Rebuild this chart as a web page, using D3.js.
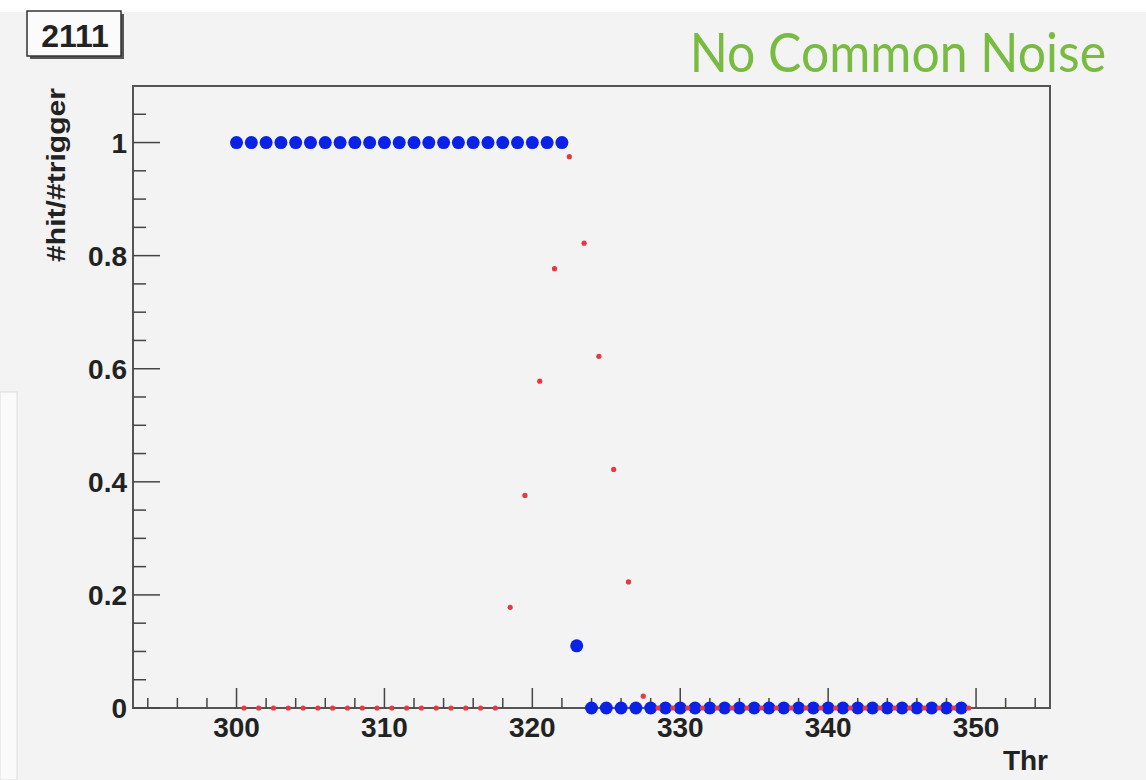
<!DOCTYPE html>
<html>
<head>
<meta charset="utf-8">
<script src="https://cdn.jsdelivr.net/npm/d3@7"></script>
<style>
  body { margin: 0; background: #fff; }
  svg { display: block; }
  text { font-family: "Liberation Sans", Arial, sans-serif; font-weight: bold; fill: #222; }
</style>
</head>
<body>
<div id="chart"></div>
<script>
// threshold scan, histogram "2111"
const blueThr = [300,301,302,303,304,305,306,307,308,309,310,311,312,313,314,315,316,317,318,319,320,321,322,
                 323,
                 324,325,326,327,328,329,330,331,332,333,334,335,336,337,338,339,340,341,342,343,344,345,346,347,348,349]
const blueVal = [1,1,1,1,1,1,1,1,1,1,1,1,1,1,1,1,1,1,1,1,1,1,1,
                 0.11,
                 0,0,0,0,0,0,0,0,0,0,0,0,0,0,0,0,0,0,0,0,0,0,0,0,0,0]

const redThr = [300.5,301.5,302.5,303.5,304.5,305.5,306.5,307.5,308.5,309.5,310.5,311.5,312.5,313.5,314.5,315.5,316.5,317.5,
                318.5,319.5,320.5,321.5,322.5,323.5,324.5,325.5,326.5,327.5,
                328.5,329.5,330.5,331.5,332.5,333.5,334.5,335.5,336.5,337.5,338.5,339.5,340.5,341.5,342.5,343.5,344.5,345.5,346.5,347.5,348.5,349.5]
const redVal = [0,0,0,0,0,0,0,0,0,0,0,0,0,0,0,0,0,0,
                0.178,0.376,0.578,0.777,0.975,0.822,0.622,0.422,0.223,0.021,
                0,0,0,0,0,0,0,0,0,0,0,0,0,0,0,0,0,0,0,0,0,0]

const xMajor = [300, 310, 320, 330, 340, 350]
const xMinor = [294,296,298,302,304,306,308,312,314,316,318,322,324,326,328,332,334,336,338,342,344,346,348,352,354]
const yMajor = [0, 0.2, 0.4, 0.6, 0.8, 1]
const yMinor = [0.05,0.1,0.15,0.25,0.3,0.35,0.45,0.5,0.55,0.65,0.7,0.75,0.85,0.9,0.95,1.05]

const W = 1146, H = 780
const frame = {left: 133, right: 1050, top: 86, bottom: 708}

const svg = d3.select("#chart").append("svg")
    .attr("width", W)
    .attr("height", H)

// page background
svg.append("rect").attr("x", 0).attr("y", 12).attr("width", W).attr("height", H - 12).attr("fill", "#f3f3f3")
svg.append("rect").attr("x", 0).attr("y", 392).attr("width", 17).attr("height", H - 392)
    .attr("fill", "#fafafa").attr("stroke", "#dedede").attr("stroke-width", 1)

const x = d3.scaleLinear().domain([293, 355]).range([frame.left, frame.right])
const y = d3.scaleLinear().domain([0, 1.1]).range([frame.bottom, frame.top])

// title box
svg.append("rect").attr("x", 30).attr("y", 14).attr("width", 94).attr("height", 45).attr("fill", "#555")
svg.append("rect").attr("x", 27).attr("y", 11).attr("width", 94).attr("height", 45)
    .attr("fill", "#fbfbfb").attr("stroke", "#333").attr("stroke-width", 1.5)
svg.append("text").attr("x", 75).attr("y", 47).attr("text-anchor", "middle")
    .style("font-size", "32px").text("2111")

// green annotation (narrowed a little to mimic the geometric face)
svg.append("text")
    .attr("transform", "translate(1106,72) scale(0.925,1)")
    .attr("text-anchor", "end")
    .style("font-family", "Lato, 'Open Sans', sans-serif").style("font-weight", "normal")
    .style("font-size", "54px").style("fill", "#77bb41")
    .text("No Common Noise")

// frame
svg.append("rect")
    .attr("x", frame.left).attr("y", frame.top)
    .attr("width", frame.right - frame.left).attr("height", frame.bottom - frame.top)
    .attr("fill", "none").attr("stroke", "#555").attr("stroke-width", 2)

const ticks = svg.append("g").attr("stroke", "#444").attr("stroke-width", 1.5)

// x ticks (pointing into the frame)
ticks.selectAll(".xmaj").data(xMajor).join("line")
    .attr("x1", d => x(d)).attr("x2", d => x(d))
    .attr("y1", frame.bottom).attr("y2", frame.bottom - 20)
ticks.selectAll(".xmin").data(xMinor).join("line")
    .attr("x1", d => x(d)).attr("x2", d => x(d))
    .attr("y1", frame.bottom).attr("y2", frame.bottom - 10)

// y ticks
ticks.selectAll(".ymaj").data(yMajor).join("line")
    .attr("x1", frame.left).attr("x2", frame.left + 27)
    .attr("y1", d => y(d)).attr("y2", d => y(d))
ticks.selectAll(".ymin").data(yMinor).join("line")
    .attr("x1", frame.left).attr("x2", frame.left + 13)
    .attr("y1", d => y(d)).attr("y2", d => y(d))

// tick labels
svg.selectAll(".xlab").data(xMajor).join("text")
    .attr("x", d => x(d)).attr("y", 737)
    .attr("text-anchor", "middle").style("font-size", "28px")
    .text(d => d)
svg.selectAll(".ylab").data(yMajor).join("text")
    .attr("x", 127).attr("y", d => y(d) + 10)
    .attr("text-anchor", "end").style("font-size", "28px")
    .text(d => d3.format("~g")(d))

// axis titles
svg.append("text").attr("x", 1048).attr("y", 770).attr("text-anchor", "end")
    .style("font-size", "28px").text("Thr")
svg.append("text")
    .attr("transform", `translate(65, ${frame.top + 2}) rotate(-90)`)
    .attr("text-anchor", "end")
    .attr("textLength", 174).attr("lengthAdjust", "spacingAndGlyphs")
    .style("font-size", "26px").text("#hit/#trigger")

// points
svg.append("g").selectAll("circle").data(blueThr).join("circle")
    .attr("cx", d => x(d))
    .attr("cy", (d, i) => y(blueVal[i]))
    .attr("r", 6.5)
    .attr("fill", "#0a22e6")

svg.append("g").selectAll("circle").data(redThr).join("circle")
    .attr("cx", d => x(d))
    .attr("cy", (d, i) => y(redVal[i]))
    .attr("r", 2.6)
    .attr("fill", "#e8383f")
</script>
</body>
</html>
